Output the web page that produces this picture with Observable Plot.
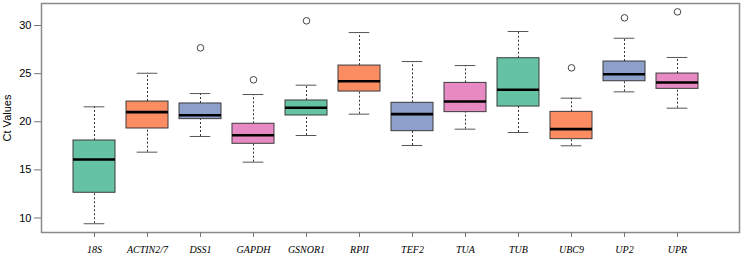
<!DOCTYPE html>
<html>
<head>
<meta charset="utf-8">
<script src="https://cdn.jsdelivr.net/npm/d3@7"></script>
<script src="https://cdn.jsdelivr.net/npm/@observablehq/plot@0.6"></script>
<style>
  html, body { margin: 0; padding: 0; background: #fff; }
  #chart svg { display: block; }
</style>
</head>
<body>
<div id="chart"></div>
<script>
const categories = ["18S","ACTIN2/7","DSS1","GAPDH","GSNOR1","RPII","TEF2","TUA","TUB","UBC9","UP2","UPR"];
const whiskerLow  = [9.40, 16.84, 18.47, 15.80, 18.57, 20.79, 17.53, 19.23, 18.88, 17.50, 23.11, 21.41];
const q1          = [12.62, 19.30, 20.27, 17.71, 20.65, 23.14, 19.02, 21.00, 21.58, 18.19, 24.21, 23.42];
const medians     = [16.08, 21.00, 20.68, 18.60, 21.45, 24.21, 20.79, 22.10, 23.32, 19.23, 24.94, 24.08];
const q3          = [18.05, 22.10, 21.90, 19.79, 22.21, 25.84, 21.97, 24.04, 26.60, 21.03, 26.26, 25.01];
const whiskerHigh = [21.55, 25.04, 22.93, 22.83, 23.80, 29.27, 26.26, 25.84, 29.38, 22.45, 28.68, 26.68];
const outlierGenes  = ["DSS1","GAPDH","GSNOR1","UBC9","UP2","UPR"];
const outlierValues = [27.68, 24.36, 30.49, 25.60, 30.80, 31.42];
const palette = ["#66C2A5","#FC8D62","#8DA0CB","#E78AC3"];
const yTicks = [10, 15, 20, 25, 30];

const rows = categories.map((gene, i) => ({
  gene, lo: whiskerLow[i], q1: q1[i], med: medians[i], q3: q3[i], hi: whiskerHigh[i]
}));
const outliers = outlierGenes.map((gene, i) => ({gene, value: outlierValues[i]}));

const W = 743, H = 256;
const mL = 41, mR = 4, mT = 3, mB = 24;
const pInner = 0.2, pOuter = 0.648;
const step = (W - mL - mR) / (categories.length - pInner + 2 * pOuter);
const capInset = step * (1 - pInner) / 4;

const chart = Plot.plot({
  width: W,
  height: H,
  marginLeft: mL,
  marginRight: mR,
  marginTop: mT,
  marginBottom: mB,
  style: {fontFamily: "'Liberation Sans', Arial, sans-serif", background: "#fff"},
  x: {type: "band", domain: categories, paddingInner: pInner, paddingOuter: pOuter, align: 0.44, label: null},
  y: {domain: [8.49, 32.29], label: null},
  color: {type: "ordinal", domain: categories, range: categories.map((_, i) => palette[i % palette.length])},
  marks: [
    Plot.ruleX(rows, {x: "gene", y1: "q3", y2: "hi", stroke: "#333", strokeDasharray: "2,2"}),
    Plot.ruleX(rows, {x: "gene", y1: "lo", y2: "q1", stroke: "#333", strokeDasharray: "2,2"}),
    Plot.tickY(rows, {x: "gene", y: "hi", stroke: "#555", insetLeft: capInset, insetRight: capInset}),
    Plot.tickY(rows, {x: "gene", y: "lo", stroke: "#555", insetLeft: capInset, insetRight: capInset}),
    Plot.barY(rows, {x: "gene", y1: "q1", y2: "q3", fill: "gene", stroke: "#3a3a3a", strokeWidth: 1}),
    Plot.tickY(rows, {x: "gene", y: "med", stroke: "#000", strokeWidth: 2.6}),
    Plot.dot(outliers, {x: "gene", y: "value", r: 3.3, stroke: "#444", fill: "none", strokeWidth: 1}),
    Plot.frame({stroke: "#8a8a8a", strokeWidth: 1.5}),
    Plot.axisY({ticks: yTicks, tickSize: 7, tickPadding: 3, stroke: "#777", fontSize: 11,
      label: "Ct Values", labelAnchor: "center", labelArrow: "none", labelOffset: 38}),
    Plot.axisX({tickSize: 5, tickPadding: 8, stroke: "#777", fontSize: 10,
      fontFamily: "'Liberation Serif', 'Times New Roman', serif", fontStyle: "italic", label: null})
  ]
});
document.getElementById("chart").appendChild(chart);
</script>
</body>
</html>
